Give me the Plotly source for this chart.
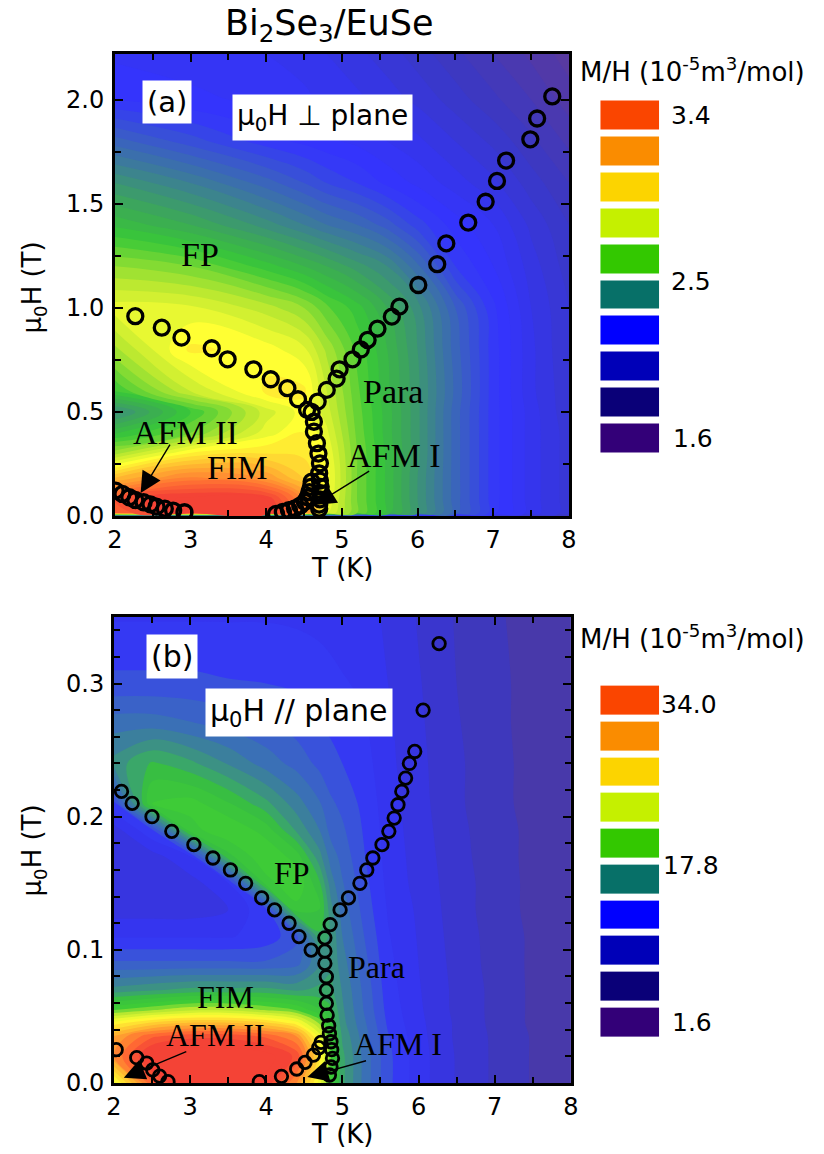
import plotly.graph_objects as go

SANS = "DejaVu Sans, Liberation Sans, Arial, sans-serif"
SERIF = "Liberation Serif, Times New Roman, serif"
W, H = 824, 1154

# ---------------- Panel (a): field perpendicular to plane ----------------
Ta_grid = [2, 3, 4, 4.5, 4.8, 5.2, 5.6, 6, 6.5, 7, 7.5, 8]
Ha_grid = [0, 0.015, 0.08, 0.18, 0.3, 0.4, 0.5, 0.6, 0.8, 1.0, 1.2, 1.4, 1.6, 1.8, 2.0, 2.22]
MHa = [
    [2.10, 2.10, 2.10, 2.10, 2.10, 2.05, 2.00, 1.97, 1.92, 1.87, 1.82, 1.78],
    [3.25, 3.38, 3.38, 3.15, 2.85, 2.68, 2.55, 2.40, 2.22, 2.06, 1.94, 1.86],
    [3.28, 3.38, 3.36, 3.15, 2.88, 2.68, 2.55, 2.40, 2.22, 2.06, 1.94, 1.86],
    [3.05, 3.18, 3.12, 3.00, 2.90, 2.68, 2.55, 2.40, 2.22, 2.06, 1.94, 1.86],
    [2.75, 2.93, 2.96, 2.95, 2.88, 2.68, 2.55, 2.41, 2.22, 2.06, 1.94, 1.86],
    [2.55, 2.68, 2.86, 2.92, 2.85, 2.67, 2.54, 2.41, 2.22, 2.06, 1.94, 1.86],
    [2.38, 2.60, 2.82, 2.90, 2.82, 2.66, 2.54, 2.41, 2.22, 2.06, 1.94, 1.85],
    [2.60, 2.80, 2.93, 2.93, 2.80, 2.65, 2.53, 2.41, 2.23, 2.06, 1.93, 1.85],
    [2.75, 2.93, 2.90, 2.85, 2.75, 2.63, 2.52, 2.40, 2.22, 2.06, 1.93, 1.84],
    [2.86, 2.85, 2.78, 2.72, 2.65, 2.58, 2.48, 2.38, 2.20, 2.05, 1.92, 1.84],
    [2.72, 2.68, 2.58, 2.52, 2.48, 2.42, 2.36, 2.25, 2.08, 2.00, 1.90, 1.82],
    [2.55, 2.48, 2.38, 2.32, 2.28, 2.24, 2.18, 2.10, 2.02, 1.96, 1.87, 1.80],
    [2.40, 2.32, 2.22, 2.16, 2.12, 2.08, 2.03, 1.99, 1.94, 1.89, 1.82, 1.76],
    [2.22, 2.14, 2.06, 2.03, 2.01, 1.99, 1.96, 1.93, 1.88, 1.83, 1.77, 1.71],
    [2.04, 2.01, 1.99, 1.97, 1.95, 1.93, 1.90, 1.87, 1.82, 1.77, 1.72, 1.66],
    [1.99, 1.98, 1.96, 1.94, 1.92, 1.89, 1.86, 1.82, 1.77, 1.72, 1.67, 1.62],
]

a_fp_T = [2.27, 2.62, 2.88, 3.28, 3.49, 3.83, 4.06, 4.28, 4.42, 4.54]
a_fp_H = [0.96, 0.905, 0.857, 0.806, 0.753, 0.705, 0.657, 0.614, 0.561, 0.51]
a_para_T = [4.68, 4.80, 4.93, 4.97, 5.14, 5.25, 5.34, 5.47, 5.66, 5.76, 6.01, 6.26,
            6.38, 6.67, 6.90, 7.05, 7.17, 7.49, 7.58, 7.78]
a_para_H = [0.55, 0.606, 0.66, 0.705, 0.753, 0.80, 0.846, 0.90, 0.958, 1.006, 1.11, 1.21,
            1.31, 1.41, 1.51, 1.61, 1.708, 1.81, 1.91, 2.016]
a_stem_T = [4.60, 4.63, 4.63, 4.67, 4.69, 4.71, 4.70, 4.71, 4.72, 4.72, 4.71, 4.70, 4.70]
a_stem_H = [0.50, 0.453, 0.405, 0.35, 0.30, 0.253, 0.205, 0.17, 0.14, 0.11, 0.08, 0.055, 0.035]
a_afm1_T = [4.13, 4.22, 4.30, 4.38, 4.45, 4.51, 4.55, 4.57, 4.59, 4.60]
a_afm1_H = [0.01, 0.02, 0.028, 0.037, 0.05, 0.068, 0.09, 0.115, 0.14, 0.165]
a_afm2_T = [2.01, 2.10, 2.19, 2.27, 2.38, 2.47, 2.55, 2.66, 2.77, 2.92]
a_afm2_H = [0.122, 0.106, 0.09, 0.077, 0.066, 0.056, 0.045, 0.035, 0.026, 0.018]

# ---------------- Panel (b): field parallel to plane ----------------
Tb_grid = [2, 2.5, 3, 3.5, 4, 4.4, 4.7, 4.85, 5.0, 5.3, 5.6, 6, 6.5, 7, 7.5, 8]
Hb_grid = [0, 0.02, 0.035, 0.045, 0.055, 0.07, 0.09, 0.11, 0.13, 0.15, 0.17, 0.19,
           0.21, 0.24, 0.27, 0.30, 0.35]
MHb = [
    [22, 30, 33, 33, 32, 28, 22, 17, 14, 11, 8.5, 6.5, 4.8, 3.6, 2.6, 1.9],
    [28, 33, 33.5, 33.5, 33, 31, 24, 18, 14, 11, 8.5, 6.5, 4.8, 3.6, 2.6, 1.9],
    [27, 30, 31, 31, 30, 28, 22, 17, 13.5, 10.8, 8.3, 6.4, 4.7, 3.6, 2.6, 1.9],
    [23, 25, 26, 26, 25, 23, 19, 16, 13, 10.5, 8.0, 6.3, 4.7, 3.5, 2.5, 1.9],
    [18, 19, 20, 20, 19, 18, 16, 15, 12.8, 10.2, 7.8, 6.2, 4.6, 3.5, 2.5, 1.9],
    [13, 13.5, 14, 14, 14, 13.5, 14, 14, 12.5, 10, 7.6, 6.1, 4.6, 3.5, 2.5, 1.9],
    [9.5, 9.5, 9.5, 9.5, 9.5, 10, 12.5, 13.5, 12, 9.6, 7.4, 6.0, 4.5, 3.4, 2.5, 1.9],
    [7, 7, 7, 7, 7.5, 9, 14.5, 13.5, 11.5, 9.2, 7.2, 5.9, 4.4, 3.4, 2.5, 1.9],
    [5.5, 5.5, 5.5, 6, 8, 16.5, 16, 13, 11, 8.8, 7.0, 5.8, 4.3, 3.3, 2.4, 1.8],
    [5, 5, 5.5, 7, 16.5, 18, 15, 12, 10.5, 8.5, 6.8, 5.6, 4.3, 3.3, 2.4, 1.8],
    [5, 5.5, 7, 15.5, 18, 16.5, 13, 11, 10, 8.2, 6.7, 5.5, 4.2, 3.2, 2.4, 1.8],
    [5.5, 8, 16.5, 18, 16.5, 13.5, 11.5, 10, 9.5, 8.0, 6.6, 5.4, 4.1, 3.2, 2.4, 1.8],
    [8, 17, 17.5, 16, 14, 12, 10.5, 9.5, 9, 7.8, 6.5, 5.3, 4.0, 3.1, 2.3, 1.8],
    [13, 15, 14, 12.5, 11, 10, 9, 8.5, 8.2, 7.5, 6.3, 5.2, 4.0, 3.1, 2.3, 1.8],
    [11, 11, 10.5, 10, 9.5, 8.8, 8.2, 8, 7.8, 7.2, 6.2, 5.1, 3.9, 3.0, 2.3, 1.8],
    [8.5, 8.5, 8.5, 8.3, 8.2, 8, 7.6, 7.4, 7.2, 6.9, 6.0, 5.0, 3.8, 3.0, 2.3, 1.8],
    [7, 7, 7, 7, 7, 6.9, 6.8, 6.7, 6.6, 6.4, 5.8, 4.8, 3.7, 2.9, 2.2, 1.7],
]

b_fp_T = [2.10, 2.24, 2.50, 2.76, 3.05, 3.30, 3.53, 3.73, 3.94, 4.11, 4.30, 4.43, 4.59]
b_fp_H = [0.219, 0.210, 0.200, 0.189, 0.179, 0.169, 0.160, 0.150, 0.139, 0.130, 0.120, 0.110, 0.0998]
b_para_T = [4.84, 4.97, 5.08, 5.23, 5.32, 5.40, 5.52, 5.61, 5.68, 5.73, 5.78, 5.83, 5.88, 5.95, 6.06, 6.27]
b_para_H = [0.119, 0.130, 0.139, 0.150, 0.160, 0.169, 0.179, 0.189, 0.199, 0.209, 0.219, 0.229,
            0.240, 0.249, 0.280, 0.330]
b_stem_T = [4.77, 4.77, 4.77, 4.79, 4.79, 4.79, 4.80, 4.82, 4.83, 4.85, 4.86, 4.87, 4.85, 4.83]
b_stem_H = [0.109, 0.099, 0.0898, 0.0798, 0.0698, 0.0598, 0.051, 0.043, 0.037, 0.031, 0.025,
            0.0185, 0.012, 0.006]
b_afm1_T = [3.91, 4.20, 4.40, 4.51, 4.62, 4.69, 4.72]
b_afm1_H = [0.001, 0.005, 0.0105, 0.0155, 0.021, 0.0265, 0.0305]
b_afm2_T = [2.03, 2.30, 2.43, 2.51, 2.60, 2.71]
b_afm2_H = [0.025, 0.019, 0.015, 0.0098, 0.0052, 0.001]

# tick labels of the field axes
ya_ticks = [0.0, 0.5, 1.0, 1.5, 2.0]
yb_ticks = [0.0, 0.1, 0.2, 0.3]

# ---------------- Legend key (boxes) ----------------
key_colors = ["#330078", "#0A0078", "#0000B8", "#0000FF", "#077068",
              "#33C800", "#C5F000", "#FCD400", "#FA8C00", "#FA4500"]
key_a_labels = [("3.4", 9.0), ("2.5", 4.38), ("1.6", 0.0)]
key_b_labels = [("34.0", 8.9), ("17.8", 4.4), ("1.6", 0.0)]

# colour scales for the contour maps (value, colour)
cs_a_pts = [(1.60, "#5B3A9C"), (1.80, "#3A38C4"), (1.95, "#3535EE"), (2.05, "#3434FF"),
            (2.20, "#3A5CC8"), (2.35, "#3C8290"), (2.50, "#3CAA55"), (2.62, "#38C838"),
            (2.80, "#B8E830"), (2.93, "#FFFF33"), (3.10, "#FFB030"), (3.25, "#FF7033"),
            (3.38, "#F44336"), (3.40, "#F44336")]
cs_b_pts = [(1.6, "#4E3AA0"), (3.0, "#3F38B8"), (4.5, "#3A36D0"), (6.0, "#3535E8"),
            (7.5, "#3434F8"), (9.0, "#3A55D8"), (11.0, "#3A6FB8"), (13.0, "#3C8A8C"),
            (14.5, "#3AA868"), (15.5, "#38BE42"), (18.0, "#3ECC36"), (20.0, "#B8E830"),
            (23.0, "#FFFF33"), (27.0, "#FFB030"), (30.0, "#FF6A33"), (32.0, "#F44336"),
            (34.0, "#F44336")]


def norm_scale(pts):
    lo, hi = pts[0][0], pts[-1][0]
    return [[(v - lo) / (hi - lo), c] for v, c in pts]


def px2x(px):
    return px / W


def py2y(py):
    return 1 - py / H


fig = go.Figure()

# contour maps
fig.add_trace(go.Contour(
    x=Ta_grid, y=Ha_grid, z=MHa, colorscale=norm_scale(cs_a_pts),
    zmin=1.6, zmax=3.4, zauto=False, autocontour=False,
    contours=dict(start=1.6, end=3.4, size=0.04, coloring="fill", showlines=False),
    line=dict(width=0, smoothing=1.2), showscale=False, hoverinfo="skip",
    xaxis="x", yaxis="y"))
fig.add_trace(go.Contour(
    x=Tb_grid, y=Hb_grid, z=MHb, colorscale=norm_scale(cs_b_pts),
    zmin=1.6, zmax=34.0, zauto=False, autocontour=False,
    contours=dict(start=1.6, end=34.0, size=1.1, coloring="fill", showlines=False),
    line=dict(width=0, smoothing=1.0), showscale=False, hoverinfo="skip",
    xaxis="x2", yaxis="y2"))

# phase-boundary circles
mk_a = dict(symbol="circle-open", size=15, color="black", line=dict(width=3.3, color="black"))
mk_b = dict(symbol="circle-open", size=12.5, color="black", line=dict(width=2.8, color="black"))
for T, Hh in [(a_fp_T, a_fp_H), (a_para_T, a_para_H), (a_stem_T, a_stem_H),
              (a_afm1_T, a_afm1_H), (a_afm2_T, a_afm2_H)]:
    fig.add_trace(go.Scatter(x=T, y=Hh, mode="markers", marker=mk_a, showlegend=False,
                             hoverinfo="skip", xaxis="x", yaxis="y"))
for T, Hh in [(b_fp_T, b_fp_H), (b_para_T, b_para_H), (b_stem_T, b_stem_H),
              (b_afm1_T, b_afm1_H), (b_afm2_T, b_afm2_H)]:
    fig.add_trace(go.Scatter(x=T, y=Hh, mode="markers", marker=mk_b, showlegend=False,
                             hoverinfo="skip", xaxis="x2", yaxis="y2"))

# key boxes
key_scale = []
n = len(key_colors)
for i, c in enumerate(key_colors):
    key_scale += [[i / n, c], [(i + 1) / n, c]]
key_z = [[i] for i in range(n)]
for xa, ya in [("x3", "y3"), ("x4", "y4")]:
    fig.add_trace(go.Heatmap(z=key_z, x=[0], y=list(range(n)), colorscale=key_scale,
                             zmin=-0.5, zmax=n - 0.5, showscale=False, ygap=7,
                             hoverinfo="skip", xaxis=xa, yaxis=ya))

tickfont = dict(family=SANS, size=24, color="black")
base_ax = dict(showline=True, linecolor="black", linewidth=2.5, mirror="ticks",
               ticks="inside", ticklen=8, tickwidth=2, tickcolor="black",
               showgrid=False, zeroline=False, tickfont=tickfont)
minor_x = dict(ticks="inside", ticklen=6, tickwidth=2, tickcolor="black", dtick=0.5)

dom_ax = [px2x(109), px2x(572)]
dom_ay = [py2y(516), py2y(54)]
dom_bx = [px2x(108), px2x(574)]
dom_by = [py2y(1083), py2y(617)]

fig.update_layout(
    width=W, height=H, margin=dict(l=0, r=0, t=0, b=0),
    paper_bgcolor="white", plot_bgcolor="white", showlegend=False,
    xaxis=dict(base_ax, domain=dom_ax, anchor="y", range=[2, 8], tick0=2, dtick=1,
               minor=minor_x),
    yaxis=dict(base_ax, domain=dom_ay, anchor="x", range=[0, 2.22], tickvals=ya_ticks,
               showticklabels=False,
               minor=dict(ticks="inside", ticklen=6, tickwidth=2, tickcolor="black", dtick=0.25)),
    xaxis2=dict(base_ax, domain=dom_bx, anchor="y2", range=[2, 8], tick0=2, dtick=1,
                minor=minor_x),
    yaxis2=dict(base_ax, domain=dom_by, anchor="x2", range=[0, 0.35], tickvals=yb_ticks,
                showticklabels=False,
                minor=dict(ticks="inside", ticklen=6, tickwidth=2, tickcolor="black", dtick=0.02)),
    xaxis3=dict(domain=[px2x(604), px2x(664)], anchor="y3", visible=False, range=[-0.5, 0.5]),
    yaxis3=dict(domain=[py2y(456.5), py2y(97.5)], anchor="x3", visible=False, range=[-0.5, n - 0.5]),
    xaxis4=dict(domain=[px2x(604), px2x(664)], anchor="y4", visible=False, range=[-0.5, 0.5]),
    yaxis4=dict(domain=[py2y(1040.4), py2y(682.6)], anchor="x4", visible=False, range=[-0.5, n - 0.5]),
)

ann = []
# y tick labels (placed a little further from the axis, as in the original)
for v in ya_ticks:
    ann.append(dict(text=f"{v:.1f}", x=px2x(100), y=v, xref="paper", yref="y", showarrow=False,
                    font=tickfont, xanchor="right", yanchor="middle"))
for v in yb_ticks:
    ann.append(dict(text=f"{v:.1f}", x=px2x(100), y=v, xref="paper", yref="y2", showarrow=False,
                    font=tickfont, xanchor="right", yanchor="middle"))
# main title
ann.append(dict(text="Bi<sub>2</sub>Se<sub>3</sub>/EuSe", x=px2x(328), y=py2y(25),
                xref="paper", yref="paper", showarrow=False,
                font=dict(family=SANS, size=35, color="black"), xanchor="center", yanchor="middle"))
# axis titles
for yy in [568, 1134]:
    ann.append(dict(text="T (K)", x=px2x(341), y=py2y(yy), xref="paper", yref="paper",
                    showarrow=False, font=dict(family=SANS, size=26, color="black"),
                    xanchor="center", yanchor="middle"))
for yy in [287, 850]:
    ann.append(dict(text="\u03bc<sub>0</sub>H (T)", x=px2x(26), y=py2y(yy), xref="paper",
                    yref="paper", showarrow=False, textangle=-90,
                    font=dict(family=SANS, size=26, color="black"),
                    xanchor="center", yanchor="middle"))
# key titles and labels
for yy in [70, 637]:
    ann.append(dict(text="M/H (10<sup>-5</sup>m<sup>3</sup>/mol)", x=px2x(581), y=py2y(yy),
                    xref="paper", yref="paper", showarrow=False,
                    font=dict(family=SANS, size=26, color="black"),
                    xanchor="left", yanchor="middle"))
for (lab, pos), xpx in zip(key_a_labels, [674, 674, 676]):
    ann.append(dict(text=lab, x=px2x(xpx), y=pos, xref="paper", yref="y3", showarrow=False,
                    font=dict(family=SANS, size=25, color="black"), xanchor="left", yanchor="middle"))
for (lab, pos), xpx in zip(key_b_labels, [664, 666, 675]):
    ann.append(dict(text=lab, x=px2x(xpx), y=pos, xref="paper", yref="y4", showarrow=False,
                    font=dict(family=SANS, size=25, color="black"), xanchor="left", yanchor="middle"))

# panel labels with white boxes
box_a = [("(a)", 2.69, 1.99, 29, "x", "y"),
         ("\u03bc<sub>0</sub>H \u22a5 plane", 4.74, 1.915, 28, "x", "y"),
         ("(b)", 2.76, 0.320, 30, "x2", "y2"),
         ("\u03bc<sub>0</sub>H // plane", 4.43, 0.278, 30, "x2", "y2")]
for txt, xx, yy, fs, xr, yr in box_a:
    ann.append(dict(text=txt, x=xx, y=yy, xref=xr, yref=yr, showarrow=False,
                    bgcolor="white", borderpad=4,
                    font=dict(family=SANS, size=fs, color="black"),
                    xanchor="center", yanchor="middle"))

# phase labels (serif)
phase_a = [("FP", 3.13, 1.255), ("Para", 5.68, 0.60), ("FIM", 3.62, 0.235),
           ("AFM II", 2.93, 0.40), ("AFM I", 5.69, 0.29)]
phase_b = [("FP", 4.34, 0.158), ("Para", 5.45, 0.087), ("FIM", 3.47, 0.0645),
           ("AFM II", 3.34, 0.036), ("AFM I", 5.73, 0.029)]
for txt, xx, yy in phase_a:
    ann.append(dict(text=txt, x=xx, y=yy, xref="x", yref="y", showarrow=False,
                    font=dict(family=SERIF, size=34, color="black")))
for txt, xx, yy in phase_b:
    ann.append(dict(text=txt, x=xx, y=yy, xref="x2", yref="y2", showarrow=False,
                    font=dict(family=SERIF, size=32, color="black")))

# arrows
arrows = [(2.34, 0.11, 2.74, 0.35, "x", "y"), (4.64, 0.053, 5.38, 0.22, "x", "y"),
          (2.13, 0.004, 2.97, 0.024, "x2", "y2"), (4.54, 0.0045, 5.33, 0.017, "x2", "y2")]
for hx, hy, tx, ty, xr, yr in arrows:
    ann.append(dict(text="", x=hx, y=hy, ax=tx, ay=ty, xref=xr, yref=yr, axref=xr, ayref=yr,
                    showarrow=True, arrowhead=2, arrowsize=3, arrowwidth=1.4,
                    arrowcolor="black", standoff=0, startstandoff=0))

fig.update_layout(annotations=ann)
fig.write_html("out.html", config={"displayModeBar": False},
               post_script="document.body.style.margin='0';document.body.style.overflow='hidden';")
